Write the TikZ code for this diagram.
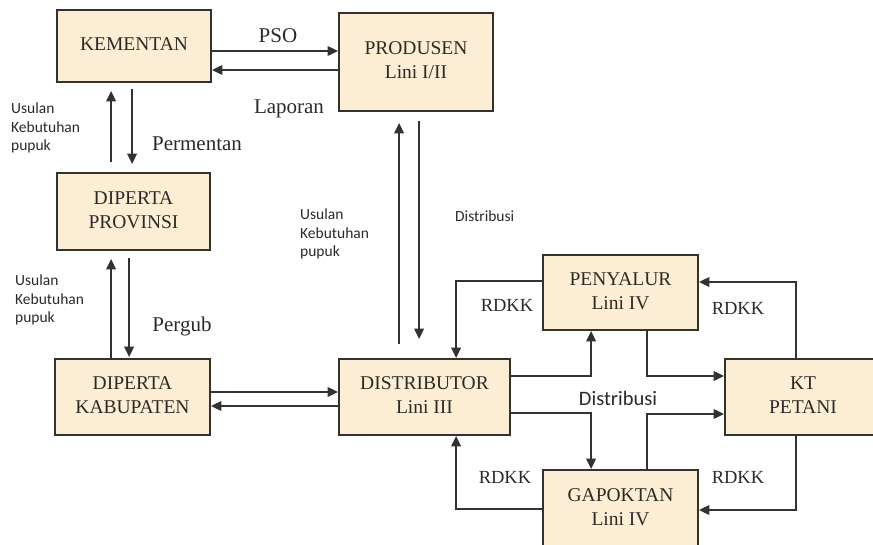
\documentclass[tikz,border=0pt]{standalone}
\usepackage{fontspec}
\setmainfont{Liberation Serif}
\newfontfamily\carlito{Carlito}
\usetikzlibrary{arrows.meta}
\definecolor{boxfill}{RGB}{252,238,212}
\definecolor{boxline}{RGB}{52,50,47}
\definecolor{txt}{RGB}{45,42,38}
\newcommand{\boxtxt}[2]{\raisebox{#1}{\begin{tabular}{@{}c@{}}#2\end{tabular}}}
\begin{document}
\begin{tikzpicture}[x=1pt,y=-1pt,
  box/.style={draw=boxline, line width=1.8pt, fill=boxfill, inner sep=0pt, text=txt,
    font=\fontsize{19.5}{24}\selectfont},
  arr/.style={-{Triangle[length=10.5pt,width=9.5pt]}, line width=2pt, draw=boxline},
  lab/.style={text=txt, font=\fontsize{21}{25}\selectfont, inner sep=0pt, anchor=base},
  rd/.style={text=txt, font=\fontsize{18.5}{22}\selectfont, inner sep=0pt, anchor=base},
  sm/.style={text=txt, font=\carlito\fontsize{15.5}{18.5}\selectfont, inner sep=0pt, align=left},
  dm/.style={text=txt, font=\carlito\fontsize{20.5}{24}\selectfont, inner sep=0pt, anchor=base}]
\useasboundingbox[fill=white] (0,0) rectangle (873,544);

% boxes
\node[box, minimum width=154pt, minimum height=72pt] (kem) at (134,46) {\boxtxt{-7pt}{KEMENTAN}};
\node[box, minimum width=154pt, minimum height=98pt] (prod) at (416,62) {\boxtxt{-3pt}{PRODUSEN\\Lini I/II}};
\node[box, minimum width=153pt, minimum height=77pt] (prov) at (133.5,211.5) {\boxtxt{4pt}{DIPERTA\\PROVINSI}};
\node[box, minimum width=155pt, minimum height=76pt] (kab) at (132.5,397) {\boxtxt{6pt}{DIPERTA\\KABUPATEN}};
\node[box, minimum width=171pt, minimum height=76pt] (dist) at (424.5,397) {\boxtxt{6pt}{DISTRIBUTOR\\Lini III}};
\node[box, minimum width=155pt, minimum height=75pt] (pen) at (620.5,292.5) {\boxtxt{6pt}{PENYALUR\\Lini IV}};
\node[box, minimum width=155pt, minimum height=77pt] (gap) at (620.5,508.5) {\boxtxt{6pt}{GAPOKTAN\\Lini IV}};
\node[box, minimum width=156pt, minimum height=76pt] (kt) at (803,397) {\boxtxt{3pt}{KT\\PETANI}};

% labels
\node[lab] (pso) at (278,42) {PSO};
\node[lab] (lap) at (289,113) {Laporan};
\node[lab] (perm) at (197,150) {Permentan};
\node[lab] (perg) at (182,331) {Pergub};
\node[rd] (rd1) at (507,311) {RDKK};
\node[rd] (rd2) at (738,314) {RDKK};
\node[rd] (rd3) at (505,483) {RDKK};
\node[rd] (rd4) at (738,483) {RDKK};
\node[sm, anchor=west] (us1) at (11,128) {Usulan\\Kebutuhan\\pupuk};
\node[sm, anchor=west] (us2) at (15,300) {Usulan\\Kebutuhan\\pupuk};
\node[sm, anchor=west] (us3) at (300,234) {Usulan\\Kebutuhan\\pupuk};
\node[sm, anchor=base west] (dis1) at (455,221) {Distribusi};
\node[dm] (dis2) at (618,405.7) {Distribusi};

% kementan <-> produsen
\draw[arr] ([yshift=-5pt]kem.east) -- ([yshift=-5pt]kem.east -| prod.west);
\draw[arr] ([yshift=-24pt]kem.east -| prod.west) -- ([yshift=-24pt]kem.east);

% kementan <-> provinsi
\draw[arr, shorten <=10pt, shorten >=8pt] ([xshift=55pt]prov.north west) -- ([xshift=55pt]kem.south west);
\draw[arr, shorten <=6pt, shorten >=8pt] ([xshift=76pt]kem.south west) -- ([xshift=76pt]prov.north west);

% provinsi <-> kabupaten
\draw[arr, shorten >=8pt] ([xshift=57pt]kab.north west) -- ([xshift=57pt]kab.north west |- prov.south);
\draw[arr, shorten <=7pt, shorten >=1pt] ([xshift=73pt]prov.south west) -- ([xshift=73pt]prov.south west |- kab.north);

% produsen <-> distributor
\draw[arr, shorten <=14pt, shorten >=11pt] ([xshift=61pt]dist.north west) -- ([xshift=61pt]dist.north west |- prod.south);
\draw[arr, shorten <=9pt, shorten >=19pt] ([xshift=81pt]prod.south west) -- ([xshift=81pt]prod.south west |- dist.north);

% kabupaten <-> distributor
\draw[arr] ([yshift=5pt]kab.east) -- ([yshift=5pt]kab.east -| dist.west);
\draw[arr] ([yshift=-9pt]kab.east -| dist.west) -- ([yshift=-9pt]kab.east);

% right part
\draw[arr] ([yshift=11.5pt]pen.west) -| ([xshift=118pt]dist.north west);
\draw[arr] ([yshift=21pt]dist.east) -| ([xshift=49pt]pen.south west);
\draw[arr] ([yshift=-16pt]dist.east) -| ([xshift=49pt]gap.north west);
\draw[arr] (gap.west) -| ([xshift=118pt]dist.south west);
\draw[arr] ([xshift=105pt]pen.south west) |- ([yshift=21pt]kt.west);
\draw[arr] ([xshift=105pt]gap.north west) |- ([yshift=-17pt]kt.west);
\draw[arr] ([xshift=72pt]kt.north west) |- ([yshift=10.5pt]pen.east);
\draw[arr] ([xshift=72pt]kt.south west) |- ([yshift=-1.5pt]gap.east);
\end{tikzpicture}
\end{document}
